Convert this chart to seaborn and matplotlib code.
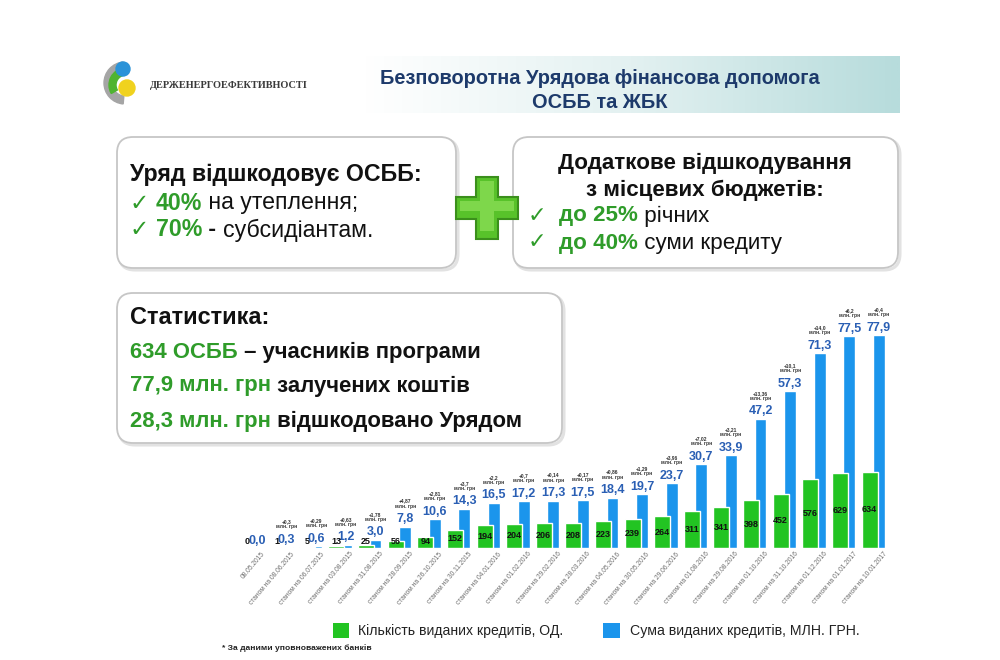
import numpy as np
import matplotlib
matplotlib.use("Agg")
import matplotlib.pyplot as plt
import seaborn as sns
from matplotlib import font_manager as fm
from matplotlib.patches import FancyBboxPatch, Polygon, Circle, Wedge, Rectangle
from matplotlib.colors import LinearSegmentedColormap
from matplotlib.transforms import ScaledTranslation

# ---------------- data ----------------
dates = ["08.05.2015", "08.06.2015", "06.07.2015", "03.08.2015", "31.08.2015",
         "28.09.2015", "26.10.2015", "30.11.2015", "04.01.2016", "01.02.2016",
         "29.02.2016", "28.03.2016", "04.05.2016", "30.05.2016", "29.06.2016",
         "01.08.2016", "29.08.2016", "01.10.2016", "31.10.2016", "01.12.2016",
         "01.01.2017", "10.01.2017"]
counts = [0, 1, 5, 13, 25, 56, 94, 152, 194, 204, 206, 208, 223, 239, 264,
          311, 341, 398, 452, 576, 629, 634]
sums = [0.0, 0.3, 0.6, 1.2, 3.0, 7.8, 10.6, 14.3, 16.5, 17.2, 17.3, 17.5, 18.4,
        19.7, 23.7, 30.7, 33.9, 47.2, 57.3, 71.3, 77.5, 77.9]
increments = ["", "+0,3", "+0,29", "+0,63", "+1,78", "+4,87", "+2,81", "+3,7",
              "+2,2", "+0,7", "+0,14", "+0,17", "+0,86", "+1,29", "+3,96",
              "+7,02", "+3,21", "+13,36", "+10,1", "+14,0", "+6,2", "+0,4"]
tick_labels = [dates[0]] + ["станом на " + d for d in dates[1:]]
legend_labels = ["Кількість виданих кредитів, ОД.", "Сума виданих кредитів, МЛН. ГРН."]

# ---------------- style ----------------
def has_font(name):
    try:
        fm.findfont(fm.FontProperties(family=name), fallback_to_default=False)
        return True
    except Exception:
        return False

MAIN = "Liberation Sans Narrow" if has_font("Liberation Sans Narrow") else "Liberation Sans"
FAM = [MAIN, "DejaVu Sans"]
SERIF = ["Liberation Serif", "DejaVu Serif"]

sns.set_theme(style="white")
plt.rcParams["font.family"] = FAM

GREEN = "#22c422"
BLUE = "#1b95ec"
LBL_BLUE = "#2a5fb4"
TXT_GREEN = "#2f9c2a"
NAVY = "#1d3a6b"
BLACK = "#111111"

fig = plt.figure(figsize=(10, 6.6), dpi=100)
fig.patch.set_facecolor("white")
bg = fig.add_axes([0, 0, 1, 1])
bg.set_xlim(0, 1000)
bg.set_ylim(660, 0)
bg.axis("off")
renderer = fig.canvas.get_renderer()

# header gradient band
cmap = LinearSegmentedColormap.from_list("hdr", ["#ffffff", "#ffffff", "#e3f1f1", "#b7dcdc"])
grad = np.linspace(0, 1, 400)[None, :]
bg.imshow(grad, extent=(95, 900, 113, 56), aspect="auto", cmap=cmap, zorder=0)
bg.set_xlim(0, 1000)
bg.set_ylim(660, 0)

# logo
bg.add_patch(Wedge((125, 83), 21, 95, 265, width=8, color="#a5a5a5", zorder=2))
bg.add_patch(Wedge((126, 85), 17, 150, 265, width=7, color="#4fb430", zorder=3))
bg.add_patch(Circle((127, 88), 8, color="#f0d21e", zorder=4))
bg.add_patch(Circle((123, 69), 7, color="#2b93d8", zorder=4))


def measure(s, size, weight, family):
    t = bg.text(0, 0, "|" + s + "|", fontsize=size, fontweight=weight, family=family)
    w = t.get_window_extent(renderer).width
    t.set_text("||")
    w2 = t.get_window_extent(renderer).width
    t.remove()
    return w - w2


def rich(x, y, pieces, size, ha="left", target=None, family=FAM):
    """pieces: (text, color, weight)"""
    if target is not None:
        tot = sum(measure(s, size, wt, family) for s, c, wt in pieces)
        size = size * target / tot
    widths = [measure(s, size, wt, family) for s, c, wt in pieces]
    total = sum(widths)
    x0 = x if ha == "left" else x - total / 2
    for (s, c, wt), w in zip(pieces, widths):
        bg.text(x0, y, s, fontsize=size, color=c, fontweight=wt, family=family,
                ha="left", va="center", zorder=6)
        x0 += w
    return size


# title and logo text
ts = rich(600, 78, [("Безповоротна Урядова фінансова допомога", NAVY, "bold")], 16,
          ha="center", target=442)
rich(600, 103, [("ОСББ та ЖБК", NAVY, "bold")], ts, ha="center")
rich(150, 85, [("ДЕРЖЕНЕРГОЕФЕКТИВНОСТІ", "#3a3a3a", "bold")], 7, target=158, family=SERIF)

# boxes
for (x, y, w, h) in [(117, 137, 339, 131), (513, 137, 385, 131), (117, 293, 445, 150)]:
    bg.add_patch(FancyBboxPatch((x + 2, y + 2), w, h,
                                boxstyle="round,pad=0,rounding_size=16",
                                fc="none", ec="#e2e2e2", lw=2.2, zorder=1))
    bg.add_patch(FancyBboxPatch((x, y), w, h, boxstyle="round,pad=0,rounding_size=16",
                                fc="white", ec="#c6c6c6", lw=1.3, zorder=2))

# box 1
s1 = rich(130, 175, [("Уряд відшкодовує ОСББ:", BLACK, "bold")], 15, target=294)
rich(130, 203, [("✓ ", TXT_GREEN, "normal"), ("40%", TXT_GREEN, "bold"),
                (" на утеплення;", BLACK, "normal")], s1)
rich(130, 230, [("✓ ", TXT_GREEN, "normal"), ("70%", TXT_GREEN, "bold"),
                (" - ", BLACK, "bold"), ("субсидіантам.", BLACK, "normal")], s1)

# box 2
s2 = rich(705, 163, [("Додаткове відшкодування", BLACK, "bold")], 15, ha="center", target=296)
rich(705, 190, [("з місцевих бюджетів:", BLACK, "bold")], s2, ha="center")
rich(528, 216, [("✓  ", TXT_GREEN, "normal"), ("до 25%", TXT_GREEN, "bold"),
                (" річних", BLACK, "normal")], s2)
rich(528, 243, [("✓  ", TXT_GREEN, "normal"), ("до 40%", TXT_GREEN, "bold"),
                (" суми кредиту", BLACK, "normal")], s2)

# box 3
s3 = rich(130, 318, [("Статистика:", BLACK, "bold")], 15, target=140)
s4 = rich(130, 421, [("28,3 млн. грн", TXT_GREEN, "bold"),
                     (" відшкодовано Урядом", BLACK, "bold")], 15, target=395)
rich(130, 352, [("634 ОСББ", TXT_GREEN, "bold"), (" – учасників програми", BLACK, "bold")], s4)
rich(130, 386, [("77,9 млн. грн", TXT_GREEN, "bold"), (" залучених коштів", BLACK, "bold")], s4)

# plus sign
cx, cy, R, a = 487, 208, 31, 11
cross = [(cx - a, cy - R), (cx + a, cy - R), (cx + a, cy - a), (cx + R, cy - a),
         (cx + R, cy + a), (cx + a, cy + a), (cx + a, cy + R), (cx - a, cy + R),
         (cx - a, cy + a), (cx - R, cy + a), (cx - R, cy - a), (cx - a, cy - a)]
bg.add_patch(Polygon(cross, closed=True, fc="#58c22a", ec="#3b8f1c", lw=1.5, zorder=5))
R2, a2 = 27, 7
inner = [(cx - a2, cy - R2), (cx + a2, cy - R2), (cx + a2, cy - a2), (cx + R2, cy - a2),
         (cx + R2, cy + a2 - 4), (cx + a2, cy + a2 - 4), (cx + a2, cy + R2 - 4),
         (cx - a2, cy + R2 - 4), (cx - a2, cy + a2 - 4), (cx - R2, cy + a2 - 4),
         (cx - R2, cy - a2), (cx - a2, cy - a2)]
bg.add_patch(Polygon(inner, closed=True, fc="#8fe05a", ec="none", alpha=0.7, zorder=5))

# ---------------- chart ----------------
n = len(counts)
idx = np.arange(n)
ax_b = fig.add_axes([0.2372, 0.1697, 0.6516, 0.3758])
ax_b.patch.set_alpha(0)
ax_g = ax_b.twinx()

sns.barplot(x=idx + 0.17, y=sums, native_scale=True, width=0.40, color=BLUE,
            saturation=1, errorbar=None, ax=ax_b)
sns.barplot(x=idx - 0.15, y=counts, native_scale=True, width=0.54, color=GREEN,
            saturation=1, errorbar=None, ax=ax_g)

ax_b.set_xlim(-0.5, n - 0.5)
ax_b.set_ylim(0, 90.7)
ax_g.set_ylim(0, 2068)
for a_ in (ax_b, ax_g):
    for sp in a_.spines.values():
        sp.set_visible(False)
    a_.set_yticks([])
    a_.set_ylabel("")
    a_.set_xlabel("")
    a_.grid(False)

ax_b.set_xticks(idx)
ax_b.set_xticklabels(tick_labels, rotation=50, ha="right", rotation_mode="anchor",
                     fontsize=4.8, color="#6f6f6f")
ax_b.tick_params(axis="x", length=0, pad=2)
for lab in ax_b.get_xticklabels():
    lab.set_transform(lab.get_transform() + ScaledTranslation(0.09, 0, fig.dpi_scale_trans))

for i in range(n):
    ax_g.annotate(f"{sums[i]:.1f}".replace(".", ","), xy=(i + 0.17, sums[i]),
                  xycoords=ax_b.transData, xytext=(0, 3.2), textcoords="offset points",
                  ha="center", va="baseline", fontsize=9, fontweight="bold",
                  color=LBL_BLUE, zorder=10)
    if increments[i]:
        ax_g.annotate(increments[i] + "\nмлн. грн", xy=(i + 0.17, sums[i]),
                      xycoords=ax_b.transData, xytext=(0, 13), textcoords="offset points",
                      ha="center", va="bottom", fontsize=3.6, fontweight="bold",
                      linespacing=1.0, color="#333333", zorder=10)
    ax_g.text(i - 0.15, max(counts[i] / 2, 58), str(counts[i]), ha="center", va="center",
              fontsize=6.5, fontweight="bold", color=BLACK, zorder=10)

# legend
bg.add_patch(Rectangle((333, 623), 16, 15, fc=GREEN, ec="none", zorder=3))
bg.add_patch(Rectangle((603, 623), 17, 15, fc=BLUE, ec="none", zorder=3))
rich(358, 631, [(legend_labels[0], "#222222", "normal")], 9, target=205)
rich(630, 631, [(legend_labels[1], "#222222", "normal")], 9, target=230)

# footnote
rich(222, 648, [("* За даними уповноважених банків", "#222222", "bold")], 5, target=150)

fig.savefig("out.png", dpi=100, facecolor="white")
